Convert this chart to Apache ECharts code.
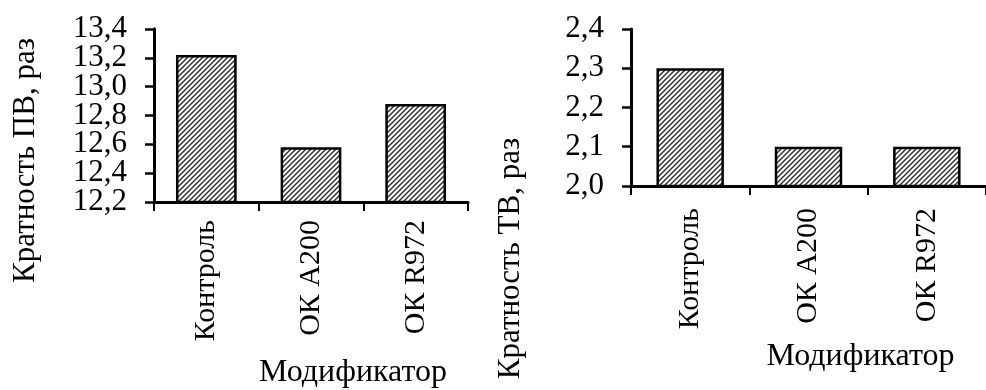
<!DOCTYPE html>
<html>
<head>
<meta charset="utf-8">
<script src="https://cdn.jsdelivr.net/npm/echarts@6/dist/echarts.min.js"></script>
<style>html,body{margin:0;padding:0;background:#fff}#c{width:986px;height:390px}</style>
</head>
<body>
<div id="c"></div>
<script>
const categories = ['Контроль', 'ОК А200', 'ОК R972'];
const valuesPV = [13.22, 12.58, 12.88];
const valuesTV = [2.3, 2.1, 2.1];
const ticksPVa = [12.2, 12.6, 13.0, 13.4];
const ticksPVb = [12.4, 12.8, 13.2];
const ticksTV = [2.0, 2.1, 2.2, 2.3, 2.4];
const yNamePV = 'Кратность ПВ, раз';
const yNameTV = 'Кратность ТВ, раз';
const xName = 'Модификатор';

function makePattern() {
  const c = document.createElement('canvas');
  c.width = 5; c.height = 5;
  const g = c.getContext('2d');
  g.fillStyle = '#ffffff';
  g.fillRect(0, 0, 5, 5);
  g.strokeStyle = '#2a2a2a';
  g.lineWidth = 1.4;
  g.beginPath();
  g.moveTo(-1, 6); g.lineTo(6, -1);
  g.moveTo(-1, 1); g.lineTo(1, -1);
  g.moveTo(4, 6); g.lineTo(6, 4);
  g.stroke();
  return c;
}
const pat = makePattern();
const font = 'Liberation Serif';
const fmt = d => v => Number(v).toFixed(d).replace('.', ',');

const chart = echarts.init(document.getElementById('c'), null, {renderer: 'canvas'});
const axisLineStyle = {color: '#000', width: 3};
function xAx(grid, padLeft) {
  return {
    type: 'category', gridIndex: grid, data: categories,
    axisLine: {show: true, lineStyle: axisLineStyle},
    axisTick: {show: true, length: 9, lineStyle: {color: '#000', width: 2}, alignWithLabel: false},
    axisLabel: {rotate: 90, margin: grid === 0 ? 18 : 22, color: '#000', fontFamily: font, fontSize: 30, interval: 0},
    name: xName, nameLocation: 'middle', nameGap: 155,
    nameTextStyle: {color: '#000', fontFamily: font, fontSize: 32, padding: [0, 0, 0, padLeft]}
  };
}
function yAx(grid, min, max, ticks, dec, name, gap, padRight) {
  const ax = {
    type: 'value', gridIndex: grid, min: min, max: max, position: 'left', offset: 0,
    axisLine: {show: true, lineStyle: axisLineStyle},
    axisTick: {show: true, inside: false, length: 9, customValues: ticks, lineStyle: {color: '#000', width: 2.5}},
    splitLine: {show: false},
    axisLabel: {customValues: ticks, formatter: fmt(dec), margin: 27, color: '#000', fontFamily: font, fontSize: 31,
      showMinLabel: true, showMaxLabel: true, hideOverlap: false}
  };
  if (name) {
    ax.name = name; ax.nameLocation = 'middle'; ax.nameGap = gap; ax.nameRotate = 90;
    ax.nameTextStyle = {color: '#000', fontFamily: font, fontSize: 31, padding: [0, padRight, 0, 0]};
  }
  return ax;
}
chart.setOption({
  animation: false,
  backgroundColor: '#fff',
  grid: [
    {left: 154, width: 314, top: 29, height: 173},
    {left: 631, width: 357, top: 29, height: 157}
  ],
  xAxis: [xAx(0, 84), xAx(1, 104)],
  yAxis: [
    yAx(0, 12.2, 13.4, ticksPVa, 1, yNamePV, 113, 90),
    yAx(1, 2.0, 2.4, ticksTV, 1, yNameTV, 105, 302),
    yAx(0, 12.2, 13.4, ticksPVb, 1, null, 0, 0)
  ],
  series: [
    {type: 'bar', xAxisIndex: 0, yAxisIndex: 0, data: valuesPV, barWidth: '58%',
     itemStyle: {color: {image: pat, repeat: 'repeat'}, borderColor: '#000', borderWidth: 2.5}},
    {type: 'bar', xAxisIndex: 1, yAxisIndex: 1, data: valuesTV, barWidth: '57%',
     itemStyle: {color: {image: pat, repeat: 'repeat'}, borderColor: '#000', borderWidth: 2.5}}
  ]
});
</script>
</body>
</html>
